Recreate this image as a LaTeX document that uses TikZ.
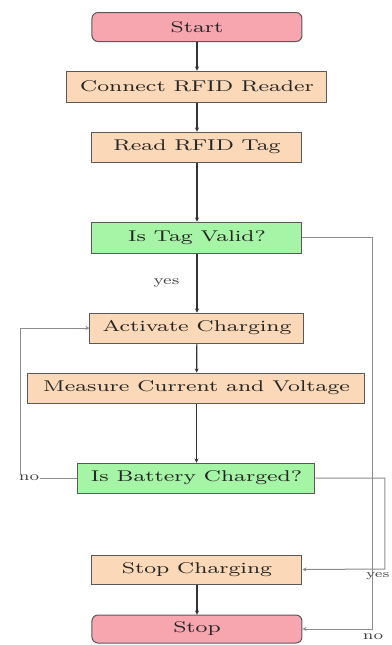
\documentclass[tikz,border=0pt]{standalone}
\usepackage{graphicx}
\usetikzlibrary{arrows.meta}
\definecolor{termfill}{RGB}{247,166,176}
\definecolor{procfill}{RGB}{251,217,184}
\definecolor{decfill}{RGB}{166,245,166}
\newcommand{\wtxt}[1]{\scalebox{1.43}[1]{#1}}
\newcommand{\ltxt}[1]{\scalebox{1.3}[1]{#1}}
\tikzset{
  basebox/.style={rectangle, draw=black!65, line width=0.5pt, inner sep=0pt,
    font=\fontsize{7.8}{9.4}\selectfont, text=black!85},
  termbox/.style={basebox, rounded corners=3pt, fill=termfill},
  procbox/.style={basebox, fill=procfill},
  decbox/.style={basebox, fill=decfill},
  flow/.style={draw=black!80, line width=0.6pt, -{Stealth[length=2pt,width=2pt]}},
  side/.style={draw=black!45, line width=0.5pt, -{Stealth[length=2pt,width=2pt]}},
  lbl/.style={font=\fontsize{6.5}{8}\selectfont, text=black!75, inner sep=0.5pt}
}
\begin{document}
\begin{tikzpicture}[x=0.5pt,y=-0.5pt]
\useasboundingbox (0,0) rectangle (392,645);
\node[termbox, minimum width=105pt, minimum height=14.5pt] (start) at (197,27) {\wtxt{Start}};
\node[procbox, minimum width=130pt, minimum height=15.5pt] (conn) at (197,86.5) {\wtxt{Connect RFID Reader}};
\node[procbox, minimum width=105pt, minimum height=15pt] (read) at (197,147) {\wtxt{Read RFID Tag}};
\node[decbox, minimum width=105pt, minimum height=15.5pt] (valid) at (197,237.5) {\wtxt{Is Tag Valid?}};
\node[procbox, minimum width=107pt, minimum height=15pt] (act) at (197,328) {\wtxt{Activate Charging}};
\node[procbox, minimum width=168.5pt, minimum height=15pt] (meas) at (196.5,388) {\wtxt{Measure Current and Voltage}};
\node[decbox, minimum width=118.5pt, minimum height=15pt] (batt) at (196.5,478) {\wtxt{Is Battery Charged?}};
\node[procbox, minimum width=105pt, minimum height=14.5pt] (stopch) at (197,569.5) {\wtxt{Stop Charging}};
\node[termbox, minimum width=105pt, minimum height=14pt] (stop) at (197,629) {\wtxt{Stop}};

\draw[flow] (start) -- (conn);
\draw[flow] (conn) -- (read);
\draw[flow] (read) -- (valid);
\draw[flow] (valid) -- node[lbl, left=8pt] {\ltxt{yes}} (act);
\draw[flow] (act) -- (meas);
\draw[flow] (meas) -- (batt);
\draw[flow] (stopch) -- (stop);

\coordinate (nl) at (21,478);
\coordinate (nr) at (373,629);
\coordinate (yr) at (385,569);
\draw[side] (batt.west) -- (nl) |- (act.west);
\node[lbl, fill=white] (nolbl) at (29,478) {\ltxt{no}};
\draw[side] (valid.east) -| (nr) -- (stop.east);
\node[lbl] (nolbl2) at (373,637) {\ltxt{no}};
\draw[side] (batt.east) -| (yr) -- (stopch.east);
\node[lbl, anchor=east, font=\fontsize{5.5}{7}\selectfont] (yeslbl2) at (391,576) {\ltxt{yes}};
\end{tikzpicture}
\end{document}
